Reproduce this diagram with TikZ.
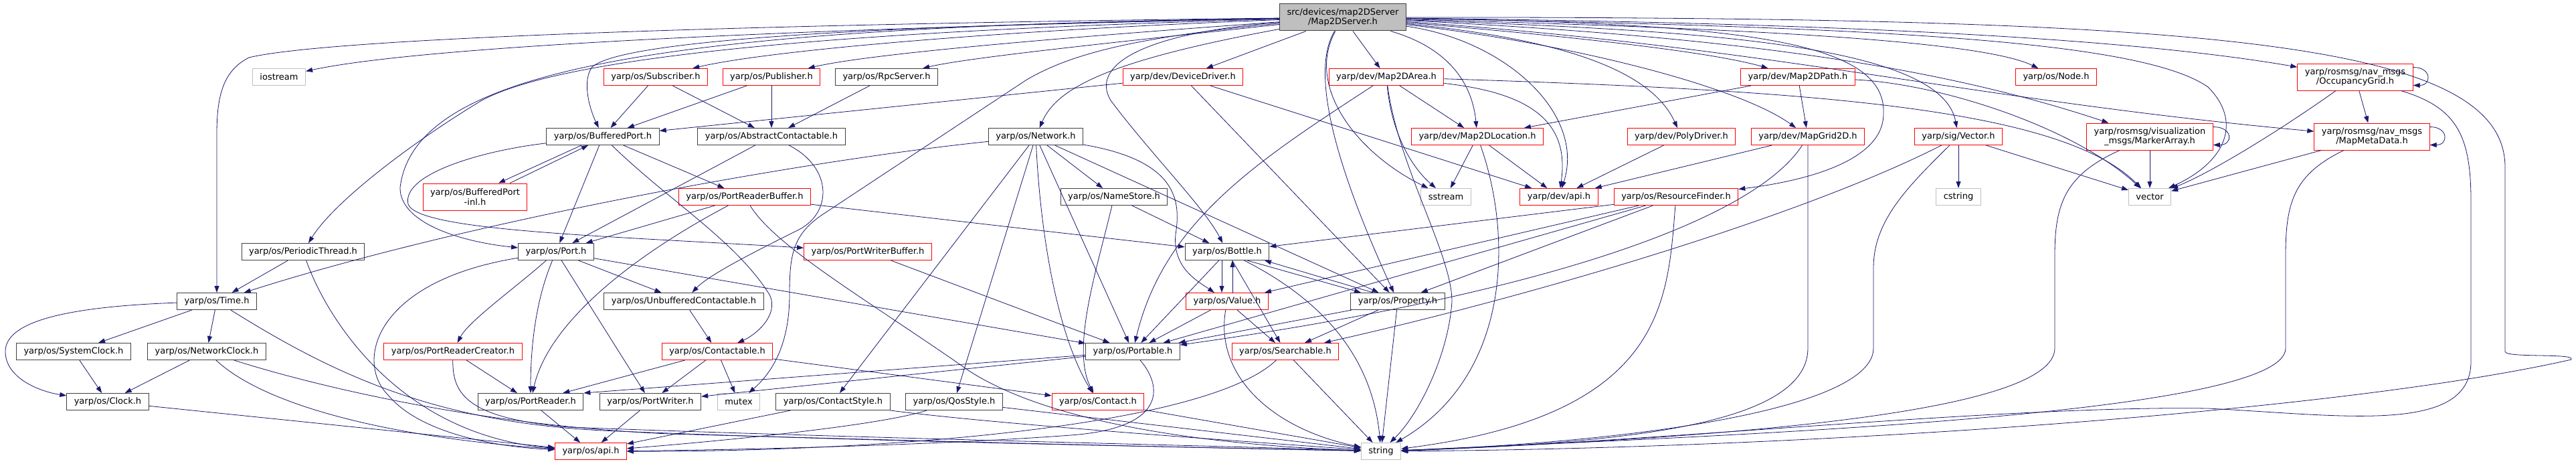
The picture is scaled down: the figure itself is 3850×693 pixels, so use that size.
\documentclass[tikz,border=0pt]{standalone}
\usepackage{fontspec}
\setmainfont{DejaVu Sans}
\usetikzlibrary{arrows.meta}
\definecolor{depblue}{HTML}{191970}
\definecolor{hdrline}{HTML}{404040}
\definecolor{sysline}{HTML}{BFBFBF}
\definecolor{rootfill}{HTML}{BFBFBF}
\definecolor{truncline}{HTML}{FF0000}

\begin{document}
\begin{tikzpicture}[x=1pt, y=-1pt,
  hdr/.style={draw=hdrline, fill=white, line width=1pt, inner xsep=11pt, inner ysep=0pt, minimum height=25pt, align=center, font=\fontsize{13}{14.5}\selectfont},
  trunc/.style={hdr, draw=truncline},
  sys/.style={hdr, draw=sysline},
  root/.style={hdr, fill=rootfill},
  tall/.style={minimum height=40pt},
  dep/.style={draw=depblue, line width=0.8pt, -{Triangle[length=10pt, width=7pt]}}]
\useasboundingbox (0,0) rectangle (3850,693);

\node[root, tall] (T) at (2007,26) {src/devices/map2DServer\\/Map2DServer.h};

\node[sys] (ios) at (417,115) {iostream};
\node[trunc] (sub) at (980,115) {yarp/os/Subscriber.h};
\node[trunc] (pub) at (1153,115) {yarp/os/Publisher.h};
\node[hdr] (rpc) at (1325,115) {yarp/os/RpcServer.h};
\node[trunc] (ddrv) at (1768,115) {yarp/dev/DeviceDriver.h};
\node[trunc] (marea) at (2072,115) {yarp/dev/Map2DArea.h};
\node[trunc] (mpath) at (2687,115) {yarp/dev/Map2DPath.h};
\node[trunc] (node) at (3073,115) {yarp/os/Node.h};
\node[trunc, tall] (occ) at (3520,115) {yarp/rosmsg/nav\_msgs\\/OccupancyGrid.h};

\node[hdr] (bport) at (901,204) {yarp/os/BufferedPort.h};
\node[hdr] (abst) at (1153,204) {yarp/os/AbstractContactable.h};
\node[hdr] (net) at (1548,204) {yarp/os/Network.h};
\node[trunc] (mloc) at (2208,204) {yarp/dev/Map2DLocation.h};
\node[trunc] (poly) at (2513,204) {yarp/dev/PolyDriver.h};
\node[trunc] (mgrid) at (2702,204) {yarp/dev/MapGrid2D.h};
\node[trunc] (vec) at (2927,204) {yarp/sig/Vector.h};
\node[trunc, tall] (marker) at (3213,204) {yarp/rosmsg/visualization\\\_msgs/MarkerArray.h};
\node[trunc, tall] (meta) at (3545,204) {yarp/rosmsg/nav\_msgs\\/MapMetaData.h};

\node[trunc, tall] (binl) at (710,294) {yarp/os/BufferedPort\\-inl.h};
\node[trunc] (prbuf) at (1113,294) {yarp/os/PortReaderBuffer.h};
\node[hdr] (nstore) at (1665,294) {yarp/os/NameStore.h};
\node[sys] (sstr) at (2161,294) {sstream};
\node[trunc] (dapi) at (2330,294) {yarp/dev/api.h};
\node[trunc] (rfind) at (2505,294) {yarp/os/ResourceFinder.h};
\node[sys] (cstr) at (2927,294) {cstring};
\node[sys] (vect) at (3213,294) {vector};

\node[hdr] (pthr) at (453,376) {yarp/os/PeriodicThread.h};
\node[hdr] (port) at (831,376) {yarp/os/Port.h};
\node[trunc] (pwbuf) at (1297,376) {yarp/os/PortWriterBuffer.h};
\node[hdr] (bottle) at (1834,376) {yarp/os/Bottle.h};

\node[hdr] (time) at (324,450) {yarp/os/Time.h};
\node[hdr] (unbuf) at (1022,450) {yarp/os/UnbufferedContactable.h};
\node[trunc] (value) at (1834,450) {yarp/os/Value.h};
\node[hdr] (prop) at (2089,450) {yarp/os/Property.h};

\node[hdr] (sclk) at (110,525) {yarp/os/SystemClock.h};
\node[hdr] (nclk) at (309,525) {yarp/os/NetworkClock.h};
\node[trunc] (prc) at (677,525) {yarp/os/PortReaderCreator.h};
\node[trunc] (contble) at (1072,525) {yarp/os/Contactable.h};
\node[hdr] (portable) at (1693,525) {yarp/os/Portable.h};
\node[trunc] (search) at (1921,525) {yarp/os/Searchable.h};

\node[hdr] (clock) at (161,600) {yarp/os/Clock.h};
\node[hdr] (preader) at (793,600) {yarp/os/PortReader.h};
\node[hdr] (pwriter) at (972,600) {yarp/os/PortWriter.h};
\node[sys] (mutex) at (1104,600) {mutex};
\node[hdr] (cstyle) at (1245,600) {yarp/os/ContactStyle.h};
\node[hdr] (qos) at (1426,600) {yarp/os/QosStyle.h};
\node[trunc] (contact) at (1641,600) {yarp/os/Contact.h};

\node[trunc] (oapi) at (883,674) {yarp/os/api.h};
\node[sys] (str) at (2064,674) {string};

% includes of Map2DServer.h
\draw[dep] (T) .. controls (1300,40) and (650,65) .. (ios);
\draw[dep] (T) .. controls (1200,35) and (500,55) .. (372,86) .. controls (335,105) and (324,140) .. (324,200) -- (time);
\draw[dep] (T) .. controls (1500,45) and (1150,75) .. (sub);
\draw[dep] (T) .. controls (1600,55) and (1300,80) .. (pub);
\draw[dep] (T) .. controls (1700,60) and (1450,85) .. (rpc);
\draw[dep] (T) .. controls (1300,38) and (930,60) .. (885,100) .. controls (870,120) and (880,160) .. (bport);
\draw[dep] (T) .. controls (1000,40) and (620,100) .. (598,280) .. controls (597,330) and (680,360) .. (port);
\draw[dep] (T) .. controls (1300,45) and (850,80) .. (720,150) .. controls (620,210) and (500,300) .. (pthr);
\draw[dep] (T) -- (ddrv);
\draw[dep] (T) .. controls (1660,90) and (1580,130) .. (net);
\draw[dep] (T) .. controls (1700,50) and (1630,100) .. (1660,150) .. controls (1720,230) and (1800,310) .. (bottle);
\draw[dep] (T) .. controls (1700,55) and (1600,80) .. (1533,120) -- (1230,320) .. controls (1185,350) and (1180,380) .. (1180,440) .. controls (1180,520) and (1150,560) .. (mutex);
\draw[dep] (T) .. controls (1950,120) and (2020,300) .. (prop);
\draw[dep] (T) .. controls (1950,130) and (2030,230) .. (sstr);
\draw[dep] (T) -- (marea);
\draw[dep] (T) .. controls (2160,70) and (2200,120) .. (mloc);
\draw[dep] (T) .. controls (2250,60) and (2370,170) .. (dapi);
\draw[dep] (T) .. controls (2350,60) and (2470,110) .. (poly);
\draw[dep] (T) .. controls (2350,65) and (2600,130) .. (mgrid);
\draw[dep] (T) .. controls (2300,50) and (2550,75) .. (mpath);
\draw[dep] (T) .. controls (2600,35) and (2820,60) .. (2815,170) .. controls (2815,240) and (2700,270) .. (rfind);
\draw[dep] (T) .. controls (2500,45) and (2900,60) .. (vec);
\draw[dep] (T) .. controls (2500,40) and (2950,55) .. (node);
\draw[dep] (T) .. controls (2600,55) and (2900,100) .. (marker);
\draw[dep] (T) .. controls (2800,35) and (3200,60) .. (occ);
\draw[dep] (T) .. controls (2650,70) and (2950,150) .. (meta);
\draw[dep] (T) .. controls (2800,40) and (3200,60) .. (3300,130) .. controls (3350,180) and (3330,240) .. (vect);
\draw[dep] (T) .. controls (3300,25) and (3744,60) .. (3744,250) -- (3744,525) .. controls (3744,535) and (3850,527) .. (3843,537) .. controls (3500,615) and (2700,670) .. (str);

% yarp/os
\draw[dep] (pthr) -- (time);
\draw[dep] (pthr) .. controls (490,480) and (600,650) .. (oapi);
\draw[dep] (net) .. controls (1200,240) and (700,330) .. (time);
\draw[dep] (time) -- (sclk);
\draw[dep] (time) -- (nclk);
\draw[dep] (time) .. controls (100,458) and (8,480) .. (8,525) .. controls (8,565) and (60,585) .. (clock);
\draw[dep] (time) .. controls (500,560) and (650,630) .. (900,643) .. controls (1300,660) and (1800,668) .. (str);
\draw[dep] (sclk) -- (clock);
\draw[dep] (nclk) -- (clock);
\draw[dep] (nclk) .. controls (400,610) and (600,655) .. (oapi);
\draw[dep] (nclk) .. controls (450,570) and (700,635) .. (1000,648) .. controls (1500,662) and (1850,670) .. (str);
\draw[dep] (clock) -- (oapi);
\draw[dep] (port) .. controls (560,420) and (530,540) .. (580,590) .. controls (630,650) and (750,668) .. (oapi);
\draw[dep] (prc) -- (preader);
\draw[dep] (prc) .. controls (676,590) and (700,625) .. (850,638) .. controls (1300,655) and (1800,665) .. (str);
\draw[dep] (port) .. controls (800,450) and (793,520) .. (preader);
\draw[dep] (port) -- (pwriter);
\draw[dep] (port) -- (unbuf);
\draw[dep] (port) .. controls (770,430) and (700,480) .. (prc);
\draw[dep] (port) -- (portable);
\draw[dep] (bport) -- (port);
\draw[dep] (bport) .. controls (1000,300) and (1100,360) .. (1150,440) .. controls (1165,470) and (1130,500) .. (contble);
\draw[dep] (bport) -- (prbuf);
\draw[dep] ([xshift=-32pt]bport.south) -- ([xshift=35pt]binl.north);
\draw[dep] ([xshift=52pt]binl.north) -- ([xshift=-22pt]bport.south);
\draw[dep] (bport) .. controls (720,225) and (600,260) .. (610,305) .. controls (625,345) and (900,352) .. (pwbuf);
\draw[dep] (sub) -- (bport);
\draw[dep] (sub) -- (abst);
\draw[dep] (pub) -- (bport);
\draw[dep] (pub) -- (abst);
\draw[dep] (rpc) -- (abst);
\draw[dep] (abst) -- (port);
\draw[dep] (abst) .. controls (1245,250) and (1245,320) .. (1190,345) .. controls (1130,375) and (1060,410) .. (unbuf);
\draw[dep] (prbuf) -- (port);
\draw[dep] (prbuf) .. controls (950,380) and (820,480) .. (preader);
\draw[dep] (prbuf) -- (bottle);
\draw[dep] (prbuf) .. controls (1160,370) and (1300,450) .. (1450,555) .. controls (1600,650) and (1900,668) .. (str);
\draw[dep] (pwbuf) -- (portable);
\draw[dep] (unbuf) -- (contble);
\draw[dep] (contble) -- (preader);
\draw[dep] (contble) -- (pwriter);
\draw[dep] (contble) -- (mutex);
\draw[dep] (contble) -- (contact);
\draw[dep] (net) -- (nstore);
\draw[dep] (net) -- (qos);
\draw[dep] (net) -- (cstyle);
\draw[dep] (net) .. controls (1555,350) and (1580,500) .. (contact);
\draw[dep] (net) -- (portable);
\draw[dep] (net) .. controls (1760,240) and (1765,300) .. (1757,350) .. controls (1752,400) and (1790,420) .. (value);
\draw[dep] (net) -- (prop);
\draw[dep] (nstore) -- (bottle);
\draw[dep] (nstore) .. controls (1640,400) and (1600,520) .. (contact);
\draw[dep] ([xshift=-8pt]bottle.south) -- ([xshift=-8pt]value.north);
\draw[dep] ([xshift=8pt]value.north) -- ([xshift=8pt]bottle.south);
\draw[dep] ([xshift=30pt]bottle.south) -- ([xshift=-55pt]prop.north);
\draw[dep] ([xshift=-37pt]prop.north) -- ([xshift=56pt]bottle.south);
\draw[dep] (bottle) -- (portable);
\draw[dep] (bottle) -- (search);
\draw[dep] (bottle) .. controls (1960,440) and (2050,520) .. (str);
\draw[dep] (value) -- (portable);
\draw[dep] (value) -- (search);
\draw[dep] (value) .. controls (1815,560) and (1900,640) .. (str);
\draw[dep] (prop) -- (portable);
\draw[dep] (prop) -- (search);
\draw[dep] (prop) -- (str);
\draw[dep] (search) -- (str);
\draw[dep] (search) .. controls (1800,640) and (1300,675) .. (oapi);
\draw[dep] (portable) .. controls (1740,580) and (1740,640) .. (1600,650) .. controls (1400,665) and (1100,672) .. (oapi);
\draw[dep] (portable) -- (preader.north east);
\draw[dep] (portable) -- (pwriter);
\draw[dep] (preader) -- (oapi);
\draw[dep] (pwriter) -- (oapi);
\draw[dep] (cstyle) -- (oapi);
\draw[dep] (cstyle.south east) .. controls (1500,635) and (1900,662) .. (str);
\draw[dep] (qos) .. controls (1300,640) and (1000,665) .. (oapi);
\draw[dep] (qos) -- (str);
\draw[dep] (contact) -- (str);
\draw[dep] (rfind) -- (bottle);
\draw[dep] (rfind) -- (value);
\draw[dep] (rfind) -- (prop);
\draw[dep] (rfind) -- (portable);
\draw[dep] (rfind) .. controls (2492,450) and (2490,620) .. (str);

% yarp/dev, yarp/sig, yarp/rosmsg
\draw[dep] (ddrv) -- (bport);
\draw[dep] (ddrv) -- (dapi);
\draw[dep] (ddrv) -- (prop);
\draw[dep] (mgrid) -- (dapi);
\draw[dep] (mgrid) .. controls (2620,330) and (2300,440) .. (portable);
\draw[dep] (mgrid) -- (2702,520) .. controls (2702,640) and (2400,662) .. (str);
\draw[dep] (vec) -- (cstr);
\draw[dep] (vec) -- (vect);
\draw[dep] (vec) .. controls (2700,320) and (2300,440) .. (search);
\draw[dep] (vec) .. controls (2850,280) and (2800,330) .. (2800,400) -- (2800,520) .. controls (2800,610) and (2450,660) .. (str);
\draw[dep] (marker) -- (vect);
\draw[dep] (marker) .. controls (3090,260) and (3071,300) .. (3071,380) -- (3071,520) .. controls (3071,620) and (2550,655) .. (str);
\draw[dep] ([yshift=-6pt]marker.north east) .. controls +(30,0) and +(30,0) .. ([yshift=8pt]marker.south east);
\draw[dep] (occ) -- (meta);
\draw[dep] (occ) .. controls (3400,200) and (3300,260) .. (vect);
\draw[dep] (occ) .. controls (3670,160) and (3693,200) .. (3693,300) -- (3693,540) .. controls (3693,650) and (3500,620) .. (3300,610) .. controls (3000,605) and (2450,662) .. (str);
\draw[dep] ([yshift=-6pt]occ.north east) .. controls +(28,0) and +(28,0) .. ([yshift=8pt]occ.south east);
\draw[dep] (meta) -- (vect);
\draw[dep] (meta) .. controls (3430,260) and (3416,300) .. (3416,380) -- (3416,520) .. controls (3416,620) and (2600,650) .. (str);
\draw[dep] ([yshift=-6pt]meta.north east) .. controls +(28,0) and +(28,0) .. ([yshift=8pt]meta.south east);
\draw[dep] (mpath) -- (mloc);
\draw[dep] (mpath) -- (mgrid);
\draw[dep] (mpath) .. controls (2900,125) and (3100,190) .. (vect);
\draw[dep] (marea) -- (mloc);
\draw[dep] (marea) .. controls (2080,200) and (2110,250) .. (sstr);
\draw[dep] (marea) .. controls (2300,140) and (2345,190) .. (dapi);
\draw[dep] (marea) .. controls (2090,250) and (2170,380) .. (2170,450) .. controls (2165,530) and (2120,620) .. (str);
\draw[dep] (marea) .. controls (1880,240) and (1740,330) .. (portable);
\draw[dep] (marea) .. controls (2700,135) and (3080,160) .. (vect);
\draw[dep] (mloc) -- (sstr);
\draw[dep] (mloc) -- (dapi);
\draw[dep] (mloc) .. controls (2260,350) and (2260,560) .. (str);
\draw[dep] (poly) -- (dapi);
\end{tikzpicture}
\end{document}
